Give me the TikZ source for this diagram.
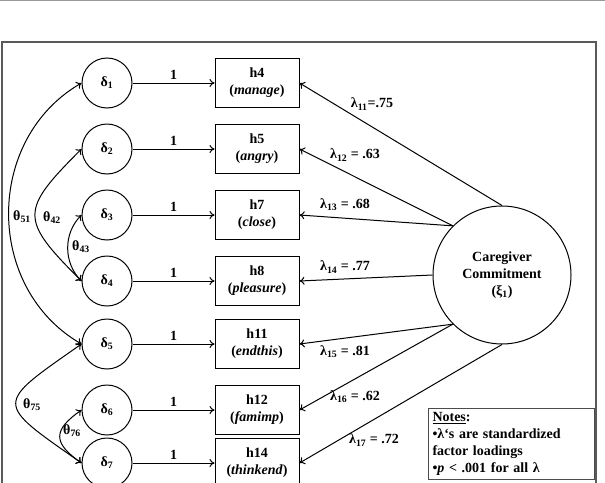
\documentclass[tikz,border=0pt]{standalone}
\usepackage{fontspec}
\setmainfont{Liberation Serif}
\usetikzlibrary{arrows.meta,positioning,shapes,fit,calc}

\begin{document}
\begin{tikzpicture}[x=1pt, y=1pt, node distance=15pt, line width=1pt,
  every node/.style={font=\fontsize{14}{17}\selectfont\bfseries, align=center},
  err/.style={draw, circle, minimum size=50pt, inner sep=0pt},
  ind/.style={draw, minimum width=84pt, minimum height=49pt, inner sep=0pt},
  lat/.style={draw, circle, minimum size=138pt, inner sep=0pt},
  >={To[length=5pt,width=8pt]}]

	\useasboundingbox (0,0) rectangle (605,-482);
	\clip (0,0) rectangle (605,-482);

	% Page rule and frame
	\draw[black!40, line width=1pt] (0,-0.5) -- (605,-0.5);
	\draw[black!65, line width=1.3pt] (2,-42) rectangle (596,-520);

	% Errors
	\node[err] (d1) at (107,-83) {δ\textsubscript{1}};
	\node[err, below=of d1] (d2) {δ\textsubscript{2}};
	\node[err, below=of d2] (d3) {δ\textsubscript{3}};
	\node[err, below=of d3] (d4) {δ\textsubscript{4}};
	\node[err, below=12pt of d4] (d5) {δ\textsubscript{5}};
	\node[err, below=of d5] (d6) {δ\textsubscript{6}};
	\node[err, below=2pt of d6] (d7) {δ\textsubscript{7}};

	% Indicators
	\node[ind, right=82pt of d1] (h4) {h4\\(\textit{manage})};
	\node[ind, right=82pt of d2] (h5) {h5\\(\textit{angry})};
	\node[ind, right=82pt of d3] (h7) {h7\\(\textit{close})};
	\node[ind, right=82pt of d4] (h8) {h8\\(\textit{pleasure})};
	\node[ind, right=82pt of d5] (h11) {h11\\(\textit{endthis})};
	\node[ind, right=82pt of d6] (h12) {h12\\(\textit{famimp})};
	\node[ind, right=82pt of d7] (h14) {h14\\(\textit{thinkend})};

	% Factor
	\node[lat] (cc) at (502,-275) {Caregiver\\Commitment\\(ξ\textsubscript{1})};

	% Error paths
	\draw[->] (d1) -- node[above] (w1) {1} (h4);
	\draw[->] (d2) -- node[above] (w2) {1} (h5);
	\draw[->] (d3) -- node[above] (w3) {1} (h7);
	\draw[->] (d4) -- node[above] (w4) {1} (h8);
	\draw[->] (d5) -- node[above] (w5) {1} (h11);
	\draw[->] (d6) -- node[above] (w6) {1} (h12);
	\draw[->] (d7) -- node[above] (w7) {1} (h14);

	% Loadings
	\draw[->] (cc.90) -- (h4.east);
	\draw[->] (cc.135) -- (h5.east);
	\draw[->] (cc.135) -- (h7.east);
	\draw[->] (cc.180) -- (h8.east);
	\draw[->] (cc.225) -- (h11.east);
	\draw[->] (cc.225) -- (h12.east);
	\draw[->] (cc.270) -- (h14.east);

	\node (l11) at (372,-104) {λ\textsubscript{11}=.75};
	\node (l12) at (355,-155) {λ\textsubscript{12} = .63};
	\node (l13) at (345,-205) {λ\textsubscript{13} = .68};
	\node (l14) at (345,-267) {λ\textsubscript{14} = .77};
	\node (l15) at (345,-352) {λ\textsubscript{15} = .81};
	\node (l16) at (355,-397) {λ\textsubscript{16} = .62};
	\node (l17) at (374,-440) {λ\textsubscript{17} = .72};

	% Covariances
	\draw[<->] (d1.west) to[bend right=60, looseness=1.1] (d5.west);
	\draw[<->] (d2.west) to[bend right=45, looseness=1.7] (d4.west);
	\draw[<->] (d3.west) to[bend right=45] (d4.west);
	\draw[<->] (d5.west) to[bend right=55, looseness=2.3] (d7.west);
	\draw[<->] (d6.west) to[bend right=55, looseness=1.7] (d7.west);

	\node (t51) at (22,-217) {θ\textsubscript{51}};
	\node (t42) at (52,-218) {θ\textsubscript{42}};
	\node (t43) at (81,-247) {θ\textsubscript{43}};
	\node (t75) at (32,-405) {θ\textsubscript{75}};
	\node (t76) at (72,-431) {θ\textsubscript{76}};

	% Notes
	\node[draw=black!70, anchor=north west, align=left, inner sep=4pt, text width=158pt] (notes) at (428,-408)
		{\underline{Notes}:\\•λ‘s are standardized\\factor loadings\\•\textit{p} < .001 for all λ};

\end{tikzpicture}
\end{document}
